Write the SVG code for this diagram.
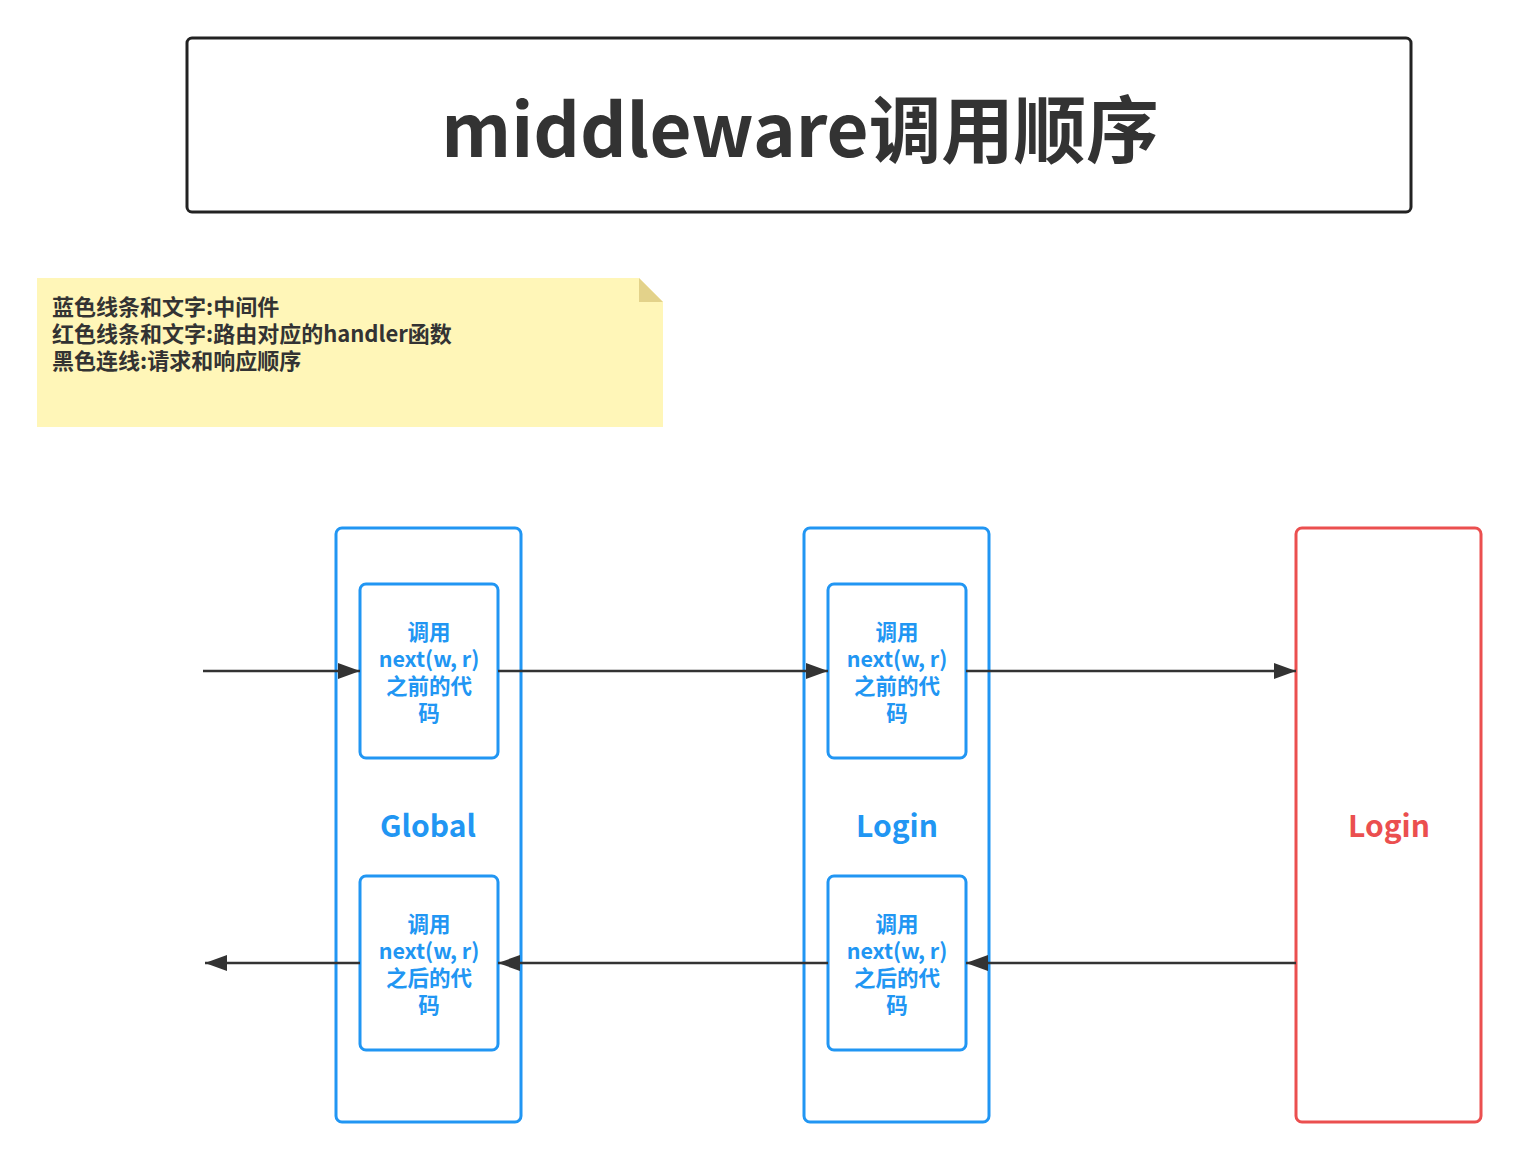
<svg xmlns="http://www.w3.org/2000/svg" width="1519" height="1161" viewBox="0 0 1519 1161">
<style>
text{font-family:"Noto Sans CJK SC","Noto Sans",sans-serif;}
.title{font-size:72.5px;font-weight:bold;fill:#333;text-anchor:middle;}
.note{font-size:22px;font-weight:bold;fill:#333;}
.blue{stroke:#2196F3;stroke-width:3;fill:#fff;}
.red{stroke:#EB4F4F;stroke-width:3;fill:#fff;}
.bt{font-size:21.5px;font-weight:bold;fill:#2196F3;text-anchor:middle;dominant-baseline:central;}
.lbl{font-size:30px;font-weight:bold;text-anchor:middle;dominant-baseline:central;}
.edge{stroke:#333;stroke-width:2.5;fill:none;marker-end:url(#arr);}
</style>
<defs>
<marker id="arr" markerUnits="userSpaceOnUse" markerWidth="22" markerHeight="16" refX="22" refY="8" orient="auto">
<path d="M0,0 L22,8 L0,16 z" fill="#333"/>
</marker>
</defs>
<rect width="1519" height="1161" fill="#fff"/>
<g id="title">
<rect x="187" y="38" width="1224" height="174" rx="5" fill="#fff" stroke="#222" stroke-width="3"/>
<text class="title" x="800" y="157">middleware调用顺序</text>
</g>
<g id="note">
<path d="M37,278 H639 L663,302 V427 H37 Z" fill="#FFF6B8"/>
<path d="M639,278 L663,302 H639 Z" fill="#E3D28A"/>
<text class="note" x="52" y="315">蓝色线条和文字:中间件</text>
<text class="note" x="52" y="342">红色线条和文字:路由对应的handler函数</text>
<text class="note" x="52" y="369">黑色连线:请求和响应顺序</text>
</g>
<g id="global">
<rect class="blue" x="336" y="528" width="185" height="594" rx="6"/>
<text class="lbl" x="428" y="824" fill="#2196F3">Global</text>
</g>
<g id="global-before">
<rect class="blue" x="360" y="584" width="138" height="174" rx="6"/>
<text class="bt" x="429" y="630">调用</text>
<text class="bt" x="429" y="657">next(w, r)</text>
<text class="bt" x="429" y="684">之前的代</text>
<text class="bt" x="429" y="711">码</text>
</g>
<g id="global-after">
<rect class="blue" x="360" y="876" width="138" height="174" rx="6"/>
<text class="bt" x="429" y="922">调用</text>
<text class="bt" x="429" y="949">next(w, r)</text>
<text class="bt" x="429" y="976">之后的代</text>
<text class="bt" x="429" y="1003">码</text>
</g>
<g id="login-mw">
<rect class="blue" x="804" y="528" width="185" height="594" rx="6"/>
<text class="lbl" x="897" y="824" fill="#2196F3">Login</text>
</g>
<g id="login-before">
<rect class="blue" x="828" y="584" width="138" height="174" rx="6"/>
<text class="bt" x="897" y="630">调用</text>
<text class="bt" x="897" y="657">next(w, r)</text>
<text class="bt" x="897" y="684">之前的代</text>
<text class="bt" x="897" y="711">码</text>
</g>
<g id="login-after">
<rect class="blue" x="828" y="876" width="138" height="174" rx="6"/>
<text class="bt" x="897" y="922">调用</text>
<text class="bt" x="897" y="949">next(w, r)</text>
<text class="bt" x="897" y="976">之后的代</text>
<text class="bt" x="897" y="1003">码</text>
</g>
<g id="login-handler">
<rect class="red" x="1296" y="528" width="185" height="594" rx="6"/>
<text class="lbl" x="1389" y="824" fill="#EB4F4F">Login</text>
</g>
<g id="connectors">
<line class="edge" x1="203" y1="671" x2="360" y2="671"/>
<line class="edge" x1="498" y1="671" x2="828" y2="671"/>
<line class="edge" x1="966" y1="671" x2="1296" y2="671"/>
<line class="edge" x1="1296" y1="963" x2="966" y2="963"/>
<line class="edge" x1="828" y1="963" x2="498" y2="963"/>
<line class="edge" x1="360" y1="963" x2="205" y2="963"/>
</g>
</svg>
